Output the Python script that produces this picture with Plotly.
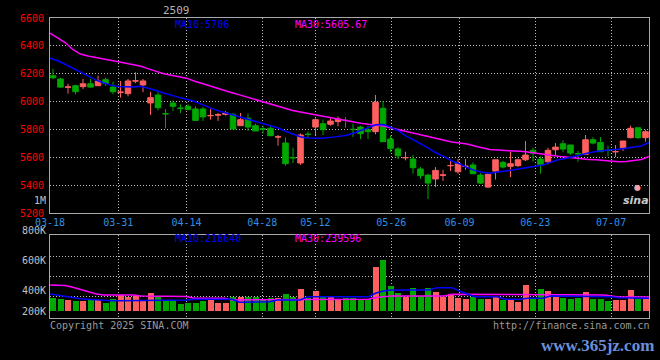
import plotly.graph_objects as go

# ---------------- data ----------------
dates = ["03-18", "03-19", "03-20", "03-21", "03-24", "03-25", "03-26", "03-27", "03-28", "03-31",
         "04-01", "04-02", "04-03", "04-07", "04-08", "04-09", "04-10", "04-11", "04-14", "04-15",
         "04-16", "04-17", "04-18", "04-21", "04-22", "04-23", "04-24", "04-25", "04-28", "04-29",
         "04-30", "05-06", "05-07", "05-08", "05-09", "05-12", "05-13", "05-14", "05-15", "05-16",
         "05-19", "05-20", "05-21", "05-22", "05-23", "05-26", "05-27", "05-28", "05-29", "05-30",
         "06-03", "06-04", "06-05", "06-06", "06-09", "06-10", "06-11", "06-12", "06-13", "06-16",
         "06-17", "06-18", "06-19", "06-20", "06-23", "06-24", "06-25", "06-26", "06-27", "06-30",
         "07-01", "07-02", "07-03", "07-04", "07-07", "07-08", "07-09", "07-10", "07-11", "07-14"]
tick_dates = ["03-18", "03-31", "04-14", "04-28", "05-12", "05-26", "06-09", "06-23", "07-07"]

opens = [6186, 6162, 6103, 6114, 6107, 6128, 6114, 6157, 6104, 6066,
         6057, 6147, 6119, 5990, 6047, 5914, 5990, 5953, 5966, 5947,
         5947, 5898, 5903, 5908, 5908, 5827, 5880, 5827, 5804, 5808,
         5745, 5703, 5598, 5559, 5766, 5817, 5841, 5837, 5856, 5866,
         5801, 5817, 5798, 5784, 5952, 5731, 5660, 5596, 5587, 5516,
         5472, 5444, 5471, 5539, 5496, 5534, 5545, 5472, 5386, 5501,
         5564, 5535, 5540, 5582, 5650, 5587, 5568, 5654, 5697, 5688,
         5627, 5621, 5726, 5707, 5651, 5639, 5669, 5741, 5812, 5741]
highs = [6234, 6171, 6128, 6121, 6162, 6162, 6186, 6171, 6143, 6148,
         6162, 6210, 6162, 6071, 6067, 5946, 6009, 5980, 5980, 5966,
         5961, 5947, 5918, 5932, 5918, 5918, 5913, 5841, 5827, 5822,
         5760, 5742, 5669, 5770, 5785, 5880, 5870, 5880, 5894, 5889,
         5841, 5827, 5827, 6047, 6004, 5755, 5673, 5640, 5616, 5530,
         5482, 5530, 5511, 5582, 5587, 5587, 5564, 5486, 5486, 5582,
         5575, 5640, 5590, 5717, 5669, 5607, 5669, 5702, 5722, 5688,
         5645, 5760, 5745, 5745, 5683, 5688, 5717, 5827, 5812, 5798]
lows = [6160, 6100, 6057, 6052, 6090, 6100, 6112, 6114, 6052, 6028,
        6038, 6133, 6067, 5904, 5937, 5808, 5932, 5918, 5942, 5865,
        5861, 5870, 5861, 5899, 5803, 5827, 5789, 5789, 5770, 5751,
        5683, 5540, 5559, 5545, 5742, 5760, 5760, 5827, 5822, 5813,
        5746, 5731, 5731, 5765, 5712, 5636, 5587, 5578, 5482, 5444,
        5300, 5386, 5430, 5501, 5482, 5510, 5482, 5408, 5381, 5440,
        5520, 5458, 5530, 5573, 5568, 5482, 5549, 5616, 5636, 5616,
        5568, 5616, 5693, 5640, 5607, 5602, 5645, 5736, 5731, 5712]
closes = [6171, 6104, 6105, 6071, 6128, 6104, 6148, 6128, 6071, 6068,
          6148, 6149, 6148, 6028, 5956, 5912, 5966, 5951, 5942, 5865,
          5890, 5900, 5905, 5918, 5803, 5870, 5817, 5789, 5802, 5755,
          5747, 5554, 5596, 5760, 5764, 5870, 5798, 5860, 5875, 5864,
          5799, 5770, 5784, 5995, 5712, 5664, 5611, 5598, 5525, 5468,
          5415, 5506, 5473, 5541, 5554, 5536, 5482, 5415, 5478, 5582,
          5530, 5554, 5582, 5616, 5630, 5549, 5650, 5673, 5659, 5630,
          5625, 5726, 5702, 5640, 5649, 5641, 5717, 5808, 5741, 5784]
volumes = [229000, 207000, 190000, 178000, 178000, 190000, 190000, 143000, 202000, 271000,
           247000, 259000, 190000, 310000, 259000, 190000, 190000, 121000, 138000, 138000,
           178000, 202000, 143000, 143000, 241000, 241000, 241000, 241000, 190000, 219000,
           219000, 293000, 236000, 379000, 229000, 345000, 259000, 247000, 202000, 229000,
           229000, 202000, 202000, 764000, 879000, 436000, 316000, 247000, 402000, 259000,
           391000, 322000, 247000, 288000, 229000, 207000, 247000, 207000, 207000, 247000,
           190000, 207000, 160000, 448000, 202000, 379000, 345000, 259000, 229000, 207000,
           229000, 328000, 207000, 207000, 172000, 190000, 190000, 362000, 207000, 207000]
ma10 = [6311, 6293, 6268, 6240, 6209, 6179, 6156, 6135, 6118, 6109,
        6105, 6105, 6110, 6097, 6080, 6062, 6044, 6030, 6017, 6002,
        5980, 5957, 5937, 5921, 5906, 5892, 5876, 5860, 5846, 5832,
        5812, 5789, 5766, 5748, 5738, 5736, 5736, 5743, 5751, 5757,
        5773, 5794, 5817, 5833, 5835, 5815, 5789, 5750, 5724, 5696,
        5662, 5629, 5605, 5573, 5554, 5527, 5506, 5493, 5486, 5494,
        5499, 5508, 5517, 5525, 5533, 5544, 5563, 5582, 5591, 5605,
        5618, 5631, 5641, 5649, 5654, 5658, 5665, 5672, 5681, 5706]
ma30 = [6492, 6460, 6424, 6374, 6341, 6327, 6318, 6309, 6300, 6286,
        6275, 6265, 6253, 6235, 6217, 6200, 6189, 6178, 6168, 6148,
        6130, 6114, 6097, 6080, 6064, 6048, 6032, 6016, 6000, 5982,
        5966, 5950, 5936, 5925, 5915, 5904, 5891, 5883, 5875, 5865,
        5853, 5845, 5837, 5830, 5824, 5811, 5798, 5787, 5776, 5763,
        5751, 5736, 5721, 5710, 5702, 5695, 5681, 5667, 5656, 5652,
        5650, 5646, 5643, 5638, 5629, 5623, 5615, 5607, 5602, 5595,
        5588, 5585, 5583, 5577, 5570, 5568, 5570, 5577, 5584, 5605.67]
vol_ma10 = [293000, 276000, 259000, 233000, 212000, 202000, 190000, 181000, 178000, 178000,
            178000, 178000, 178000, 178000, 190000, 190000, 190000, 190000, 190000, 202000,
            202000, 202000, 202000, 202000, 202000, 150000, 150000, 150000, 160000, 160000,
            190000, 190000, 190000, 190000, 247000, 247000, 247000, 247000, 247000, 247000,
            247000, 247000, 247000, 310000, 345000, 362000, 362000, 362000, 362000, 362000,
            362000, 402000, 402000, 402000, 345000, 293000, 247000, 247000, 247000, 247000,
            202000, 202000, 202000, 219000, 219000, 219000, 259000, 259000, 259000, 259000,
            259000, 259000, 259000, 247000, 247000, 229000, 229000, 229000, 229000, 218640]
vol_ma30 = [448000, 448000, 440000, 409000, 371000, 331000, 297000, 276000, 276000, 276000,
            276000, 276000, 259000, 259000, 259000, 259000, 259000, 259000, 250000, 219000,
            219000, 219000, 219000, 219000, 190000, 190000, 190000, 190000, 190000, 190000,
            190000, 190000, 190000, 190000, 190000, 190000, 190000, 202000, 202000, 202000,
            202000, 202000, 202000, 233000, 247000, 259000, 259000, 259000, 259000, 259000,
            259000, 259000, 259000, 288000, 288000, 288000, 288000, 288000, 288000, 288000,
            288000, 288000, 288000, 288000, 288000, 288000, 288000, 288000, 288000, 288000,
            288000, 288000, 288000, 276000, 259000, 241000, 241000, 241000, 241000, 239596]
price_ticks = [5200, 5400, 5600, 5800, 6000, 6200, 6400, 6600]
vol_labels = ["800K", "600K", "400K", "200K"]

# ---------------- geometry ----------------
W, H = 660, 360
ML, MR, MT, MB = 50, 11, 18, 42
PW, PH = W - ML - MR, H - MT - MB
SLOT = 7.5                      # px per candle
XL = -0.4
XR = XL + PW / SLOT
GRID_STEP = (PW / (len(dates) - 1)) / SLOT   # grid / MA spacing in index units

def fx(px):
    return (px - ML) / PW

def fy(py):
    return (H - MB - py) / PH

idx = list(range(len(dates)))
ma_x = [XL + i * GRID_STEP for i in idx]
tick_pos = [XL + dates.index(d) * GRID_STEP for d in tick_dates]

VPX = 0.058 / 1000     # px per unit volume
VBASE = 311            # pixel of zero volume
vol_range = [-(H - MB - VBASE) / VPX, (VBASE - 235) / VPX]
vol_grid = [(VBASE - p) / VPX for p in (256, 276, 296)]

UP = "#ff5f5f"
DOWN = "#00a800"
MONO = "DejaVu Sans Mono"
GRID = "#bdbdbd"
FRAME = "#a8a8a8"

fig = go.Figure()

fig.add_trace(go.Candlestick(
    x=idx, open=opens, high=highs, low=lows, close=closes,
    increasing=dict(line=dict(color=UP, width=1), fillcolor=UP),
    decreasing=dict(line=dict(color=DOWN, width=1), fillcolor=DOWN),
    whiskerwidth=0, xaxis="x", yaxis="y", showlegend=False, hoverinfo="skip"))
fig.add_trace(go.Scatter(x=ma_x, y=ma30, mode="lines", line=dict(color="#ff00ff", width=1.5),
                         xaxis="x", yaxis="y", showlegend=False, hoverinfo="skip"))
fig.add_trace(go.Scatter(x=ma_x, y=ma10, mode="lines", line=dict(color="#0000ff", width=1.5),
                         xaxis="x", yaxis="y", showlegend=False, hoverinfo="skip"))

vol_colors = [UP if c >= o else DOWN for o, c in zip(opens, closes)]
fig.add_trace(go.Bar(x=idx, y=volumes, marker=dict(color=vol_colors, line=dict(width=0)),
                     width=0.8, xaxis="x2", yaxis="y2", showlegend=False, hoverinfo="skip"))
fig.add_trace(go.Scatter(x=ma_x, y=vol_ma30, mode="lines", line=dict(color="#ff00ff", width=1.5),
                         xaxis="x2", yaxis="y2", showlegend=False, hoverinfo="skip"))
fig.add_trace(go.Scatter(x=ma_x, y=vol_ma10, mode="lines", line=dict(color="#0000ff", width=1.5),
                         xaxis="x2", yaxis="y2", showlegend=False, hoverinfo="skip"))

axis_common = dict(showline=True, mirror=True, linecolor=FRAME, linewidth=1,
                   showgrid=True, gridcolor=GRID, gridwidth=1, griddash="1px,2px",
                   zeroline=False, ticks="", fixedrange=True)

fig.update_layout(
    width=W, height=H,
    margin=dict(l=ML, r=MR, t=MT, b=MB, pad=0),
    paper_bgcolor="#000000", plot_bgcolor="#000000",
    boxgap=0.26, boxgroupgap=0,
    bargap=0,
    xaxis=dict(domain=[0, 1], range=[XL, XR], anchor="y",
               tickvals=tick_pos, ticktext=tick_dates,
               tickfont=dict(family=MONO, size=10, color="#2e8fe6"),
               rangeslider=dict(visible=False), **axis_common),
    yaxis=dict(domain=[fy(213), 1], range=[price_ticks[0], price_ticks[-1]], anchor="x",
               tickvals=price_ticks, ticktext=[str(v) for v in price_ticks],
               tickfont=dict(family=MONO, size=10, color="#ff0000"),
               ticklabelstandoff=3, **axis_common),
    xaxis2=dict(domain=[0, 1], range=[XL, XR], anchor="y2", matches="x",
                tickvals=tick_pos, showticklabels=False, **axis_common),
    yaxis2=dict(domain=[0, fy(235)], range=vol_range, anchor="x2",
                tickvals=vol_grid, showticklabels=False, **axis_common),
)

def note(text, px, py, color, anchor="left", size=10, family=MONO, **kw):
    fig.add_annotation(text=text, x=fx(px), y=fy(py), xref="paper", yref="paper",
                       xanchor=anchor, yanchor="middle", showarrow=False,
                       font=dict(family=family, size=size, color=color), borderpad=0, **kw)

note("2509", 176, 10, "#b4b4b4", anchor="center", size=11)
note("MA10:" + str(ma10[-1]), 174, 24, "#0000ff")
note("MA30:" + str(ma30[-1]), 294, 24, "#ff00ff")
note("1M", 47, 200, "#c0c0c0", anchor="right")
note("MA10:" + str(vol_ma10[-1]), 174, 238.5, "#0000ff")
note("MA30:" + str(vol_ma30[-1]), 294, 238.5, "#ff00ff")
for lab, py in zip(vol_labels, (230, 260, 290, 311)):
    note(lab, 47, py, "#c0c0c0", anchor="right")
note("Copyright 2025 SINA.COM", 49, 325, "#9a9a9a")
note("http://finance.sina.com.cn", 651, 325, "#9a9a9a", anchor="right")
note("<b><i>sina</i></b>", 636, 200, "#c8c8c8", anchor="center", size=11, family="DejaVu Sans")
note("●", 637, 187, "#f3a0a8", anchor="center", size=8, family="DejaVu Sans")
note("<b>www.365jz.com</b>", 597, 345, "#6a8fd8", anchor="center", size=17,
     family="Liberation Sans Narrow")

fig.write_html("out.html", config={"displayModeBar": False},
               post_script="document.body.style.margin='0';document.body.style.background='#000';")
